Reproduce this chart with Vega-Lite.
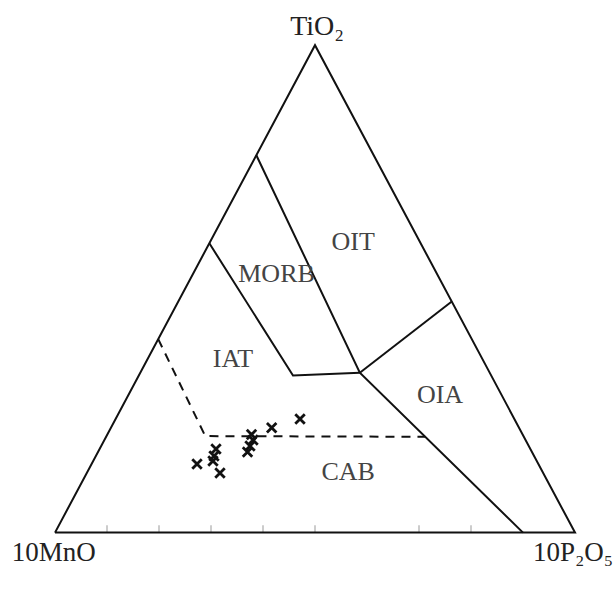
{
  "$schema": "https://vega.github.io/schema/vega-lite/v6.json",
  "width": 520,
  "height": 487.4,
  "autosize": "none",
  "padding": {"left": 55, "top": 45.2, "right": 41, "bottom": 67.4},
  "background": "white",
  "config": {"view": {"stroke": null}},
  "datasets": {
    "frame": [
      {"seg": "tri", "o": 0, "x": 0, "y": 0},
      {"seg": "tri", "o": 1, "x": 0.5, "y": 1},
      {"seg": "tri", "o": 2, "x": 1, "y": 0},
      {"seg": "tri", "o": 3, "x": 0, "y": 0},
      {"seg": "a", "o": 0, "x": 0.3872, "y": 0.7743},
      {"seg": "a", "o": 1, "x": 0.5862, "y": 0.3279},
      {"seg": "a", "o": 2, "x": 0.9, "y": 0},
      {"seg": "b", "o": 0, "x": 0.5862, "y": 0.3279},
      {"seg": "b", "o": 1, "x": 0.763, "y": 0.4741},
      {"seg": "c", "o": 0, "x": 0.2968, "y": 0.5936},
      {"seg": "c", "o": 1, "x": 0.4577, "y": 0.3224},
      {"seg": "c", "o": 2, "x": 0.5862, "y": 0.3279}
    ],
    "dashed": [
      {"o": 0, "x": 0.1985, "y": 0.397},
      {"o": 1, "x": 0.289, "y": 0.198},
      {"o": 2, "x": 0.712, "y": 0.1966}
    ],
    "ticks": [
      {"x": 0.1}, {"x": 0.2}, {"x": 0.3}, {"x": 0.4}, {"x": 0.5}, {"x": 0.7}, {"x": 0.8}
    ],
    "samples": [
      {"x": 0.4712, "y": 0.2331},
      {"x": 0.4167, "y": 0.2152},
      {"x": 0.3779, "y": 0.2013},
      {"x": 0.3808, "y": 0.19},
      {"x": 0.375, "y": 0.1777},
      {"x": 0.3702, "y": 0.1654},
      {"x": 0.3096, "y": 0.1715},
      {"x": 0.3058, "y": 0.1572},
      {"x": 0.3038, "y": 0.1469},
      {"x": 0.3173, "y": 0.1223},
      {"x": 0.2731, "y": 0.1408}
    ],
    "fields": [
      {"label": "OIT", "x": 0.5733, "y": 0.596},
      {"label": "MORB", "x": 0.426, "y": 0.5297},
      {"label": "IAT", "x": 0.3423, "y": 0.3557},
      {"label": "OIA", "x": 0.7404, "y": 0.2819},
      {"label": "CAB", "x": 0.5638, "y": 0.1247}
    ],
    "apexTop": [{"label": "TiO₂", "x": 0.504, "y": 1.021}],
    "apexBase": [
      {"label": "10MnO", "x": -0.083, "y": -0.058},
      {"label": "10P₂O₅", "x": 0.919, "y": -0.058}
    ]
  },
  "layer": [
    {
      "data": {"name": "ticks"},
      "mark": {"type": "rule", "color": "#aaaaaa", "strokeWidth": 1.2},
      "encoding": {
        "x": {"field": "x", "type": "quantitative", "scale": {"domain": [0, 1], "nice": false, "zero": false}, "axis": null},
        "y": {"datum": 0, "type": "quantitative", "scale": {"domain": [0, 1], "nice": false, "zero": false}, "axis": null},
        "y2": {"datum": 0.015}
      }
    },
    {
      "data": {"name": "frame"},
      "mark": {"type": "line", "color": "#111111", "strokeWidth": 2, "strokeJoin": "miter"},
      "encoding": {
        "x": {"field": "x", "type": "quantitative", "scale": {"domain": [0, 1], "nice": false, "zero": false}, "axis": null},
        "y": {"field": "y", "type": "quantitative", "scale": {"domain": [0, 1], "nice": false, "zero": false}, "axis": null},
        "detail": {"field": "seg", "type": "nominal"},
        "order": {"field": "o", "type": "quantitative"}
      }
    },
    {
      "data": {"name": "dashed"},
      "mark": {"type": "line", "color": "#111111", "strokeWidth": 2, "strokeDash": [9, 7]},
      "encoding": {
        "x": {"field": "x", "type": "quantitative", "scale": {"domain": [0, 1], "nice": false, "zero": false}, "axis": null},
        "y": {"field": "y", "type": "quantitative", "scale": {"domain": [0, 1], "nice": false, "zero": false}, "axis": null},
        "order": {"field": "o", "type": "quantitative"}
      }
    },
    {
      "data": {"name": "samples"},
      "mark": {"type": "point", "shape": "M-1,-1L1,1M-1,1L1,-1", "filled": false, "stroke": "#111111", "strokeWidth": 2.8, "size": 90, "opacity": 1},
      "encoding": {
        "x": {"field": "x", "type": "quantitative", "scale": {"domain": [0, 1], "nice": false, "zero": false}, "axis": null},
        "y": {"field": "y", "type": "quantitative", "scale": {"domain": [0, 1], "nice": false, "zero": false}, "axis": null}
      }
    },
    {
      "data": {"name": "fields"},
      "mark": {"type": "text", "font": "Liberation Serif", "fontSize": 26, "color": "#444444", "align": "center", "baseline": "middle"},
      "encoding": {
        "x": {"field": "x", "type": "quantitative", "scale": {"domain": [0, 1], "nice": false, "zero": false}, "axis": null},
        "y": {"field": "y", "type": "quantitative", "scale": {"domain": [0, 1], "nice": false, "zero": false}, "axis": null},
        "text": {"field": "label", "type": "nominal"}
      }
    },
    {
      "data": {"name": "apexTop"},
      "mark": {"type": "text", "font": "Liberation Serif", "fontSize": 28, "color": "#222222", "align": "center", "baseline": "alphabetic"},
      "encoding": {
        "x": {"field": "x", "type": "quantitative", "scale": {"domain": [0, 1], "nice": false, "zero": false}, "axis": null},
        "y": {"field": "y", "type": "quantitative", "scale": {"domain": [0, 1], "nice": false, "zero": false}, "axis": null},
        "text": {"field": "label", "type": "nominal"}
      }
    },
    {
      "data": {"name": "apexBase"},
      "mark": {"type": "text", "font": "Liberation Serif", "fontSize": 27, "color": "#222222", "align": "left", "baseline": "alphabetic"},
      "encoding": {
        "x": {"field": "x", "type": "quantitative", "scale": {"domain": [0, 1], "nice": false, "zero": false}, "axis": null},
        "y": {"field": "y", "type": "quantitative", "scale": {"domain": [0, 1], "nice": false, "zero": false}, "axis": null},
        "text": {"field": "label", "type": "nominal"}
      }
    }
  ]
}
